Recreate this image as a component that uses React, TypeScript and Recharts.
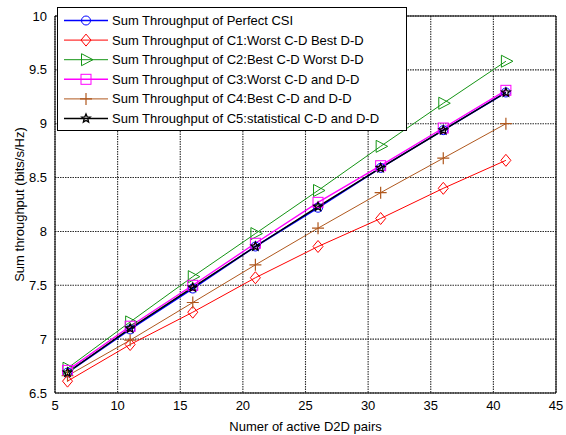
import { CartesianGrid, Line, LineChart, ReferenceLine, XAxis, YAxis } from 'recharts';

const pairs = [6, 11, 16, 21, 26, 31, 36, 41];
const perfectCsi = [6.69, 7.09, 7.47, 7.86, 8.22, 8.59, 8.94, 9.29];
const c1WorstCdBestDd = [6.61, 6.95, 7.25, 7.57, 7.86, 8.12, 8.40, 8.66];
const c2BestCdWorstDd = [6.73, 7.16, 7.58, 7.98, 8.38, 8.79, 9.19, 9.58];
const c3WorstCdDd = [6.71, 7.12, 7.50, 7.89, 8.27, 8.61, 8.96, 9.31];
const c4BestCdDd = [6.66, 6.99, 7.34, 7.69, 8.03, 8.36, 8.68, 9.00];
const c5StatisticalCdDd = [6.69, 7.10, 7.48, 7.86, 8.23, 8.59, 8.94, 9.29];

const xTicks = [5, 10, 15, 20, 25, 30, 35, 40, 45];
const yTicks = [6.5, 7, 7.5, 8, 8.5, 9, 9.5, 10];

type MarkerShape = 'circle' | 'diamond' | 'triangle' | 'square' | 'plus' | 'star';

const series: { key: string; name: string; color: string; shape: MarkerShape; width: number; values: number[] }[] = [
  { key: 'perfect', name: 'Sum Throughput of Perfect CSI', color: '#0000ff', shape: 'circle', width: 1.6, values: perfectCsi },
  { key: 'c1', name: 'Sum Throughput of C1:Worst C-D Best D-D', color: '#ff0000', shape: 'diamond', width: 1, values: c1WorstCdBestDd },
  { key: 'c2', name: 'Sum Throughput of C2:Best C-D Worst D-D', color: '#149414', shape: 'triangle', width: 1, values: c2BestCdWorstDd },
  { key: 'c3', name: 'Sum Throughput of C3:Worst C-D and D-D', color: '#ff00ff', shape: 'square', width: 1.4, values: c3WorstCdDd },
  { key: 'c4', name: 'Sum Throughput of C4:Best C-D and D-D', color: '#b0581e', shape: 'plus', width: 1, values: c4BestCdDd },
  { key: 'c5', name: 'Sum Throughput of C5:statistical C-D and D-D', color: '#000000', shape: 'star', width: 1.4, values: c5StatisticalCdDd },
];

const data = pairs.map((x, i) => {
  const row: Record<string, number> = { x };
  series.forEach((s) => {
    row[s.key] = s.values[i];
  });
  return row;
});

const FONT = 'Arial, "Liberation Sans", sans-serif';

function starPath(cx: number, cy: number, r: number) {
  const pts: string[] = [];
  for (let i = 0; i < 10; i++) {
    const rr = i % 2 === 0 ? r : r * 0.45;
    const a = -Math.PI / 2 + (i * Math.PI) / 5;
    pts.push(`${cx + rr * Math.cos(a)},${cy + rr * Math.sin(a)}`);
  }
  return `M${pts.join('L')}Z`;
}

function Marker({ shape, cx, cy, color }: { shape: MarkerShape; cx: number; cy: number; color: string }) {
  switch (shape) {
    case 'circle':
      return <circle cx={cx} cy={cy} r={4.5} fill="none" stroke={color} strokeWidth={1} />;
    case 'diamond':
      return <path d={`M${cx},${cy - 6}L${cx + 5},${cy}L${cx},${cy + 6}L${cx - 5},${cy}Z`} fill="none" stroke={color} />;
    case 'triangle':
      return <path d={`M${cx - 4.5},${cy - 6}L${cx + 7},${cy}L${cx - 4.5},${cy + 6}Z`} fill="none" stroke={color} />;
    case 'square':
      return <rect x={cx - 5} y={cy - 5} width={10} height={10} fill="none" stroke={color} />;
    case 'plus':
      return <path d={`M${cx - 6},${cy}H${cx + 6}M${cx},${cy - 6}V${cy + 6}`} stroke={color} strokeWidth={1.2} />;
    case 'star':
      return <path d={starPath(cx, cy, 4.5)} fill="none" stroke={color} strokeWidth={1.3} />;
  }
}

// legend box sits over the top-left corner of the plot, like a MATLAB "northwest" legend
function LegendBox() {
  return (
    <svg width={350} height={124} style={{ position: 'absolute', left: 57, top: 7, display: 'block' }}>
      <rect x={0.5} y={0.5} width={349} height={123} fill="#fff" stroke="#000" />
      {series.map((s, i) => {
        const y = 13.5 + i * 19.6;
        return (
          <g key={s.key}>
            <line x1={7} x2={51} y1={y} y2={y} stroke={s.color} strokeWidth={s.width} />
            <Marker shape={s.shape} cx={29} cy={y} color={s.color} />
            <text x={55} y={y + 4.5} fontSize={13} fontFamily={FONT} fill="#000">
              {s.name}
            </text>
          </g>
        );
      })}
    </svg>
  );
}

export default function App() {
  return (
    <div style={{ position: 'absolute', left: 0, top: 0, width: 566, height: 435, background: '#fff' }}>
      <LineChart width={566} height={435} data={data} margin={{ top: 16, right: 10, left: 15, bottom: 22 }}>
        <CartesianGrid stroke="#2a2a2a" strokeWidth={1.1} strokeDasharray="1.5 1" horizontalValues={yTicks} verticalValues={xTicks} />
        <XAxis
          dataKey="x"
          type="number"
          domain={[5, 45]}
          ticks={xTicks}
          stroke="#000"
          tickLine={false}
          tick={{ fill: '#000', fontSize: 13, fontFamily: FONT }}
          height={20}
          label={{ value: 'Numer of active D2D pairs', position: 'insideBottom', offset: -18, fill: '#000', fontSize: 13, fontFamily: FONT }}
        />
        <YAxis
          type="number"
          domain={[6.5, 10]}
          ticks={yTicks}
          stroke="#000"
          tickLine={false}
          width={40}
          tick={{ fill: '#000', fontSize: 13, fontFamily: FONT }}
          label={{ value: 'Sum throughput (bits/s/Hz)', angle: -90, position: 'insideLeft', offset: 4, style: { textAnchor: 'middle' }, fill: '#000', fontSize: 13, fontFamily: FONT }}
        />
        <ReferenceLine y={10} stroke="#000" />
        <ReferenceLine x={45} stroke="#000" />
        {series.map((s) => (
          <Line
            key={s.key}
            dataKey={s.key}
            name={s.name}
            stroke={s.color}
            strokeWidth={s.width}
            isAnimationActive={false}
            dot={(p: { cx?: number; cy?: number; index?: number }) => (
              <Marker key={`${s.key}-${p.index}`} shape={s.shape} cx={p.cx ?? 0} cy={p.cy ?? 0} color={s.color} />
            )}
            activeDot={false}
          />
        ))}
      </LineChart>
      <LegendBox />
    </div>
  );
}
